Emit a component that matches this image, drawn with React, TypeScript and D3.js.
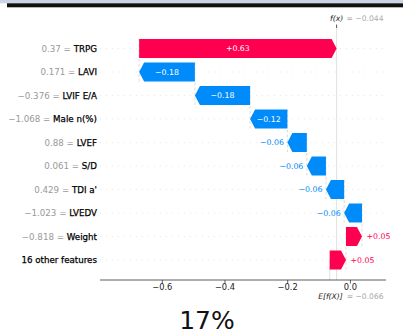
import React from "react";
import * as d3 from "d3";

// Feature rows, top to bottom
const features = [
  "TRPG",
  "LAVI",
  "LVIF E/A",
  "Male n(%)",
  "LVEF",
  "S/D",
  "TDI a'",
  "LVEDV",
  "Weight",
  "16 other features",
];
const featureValues = [
  "0.37",
  "0.171",
  "\u22120.376",
  "\u22121.068",
  "0.88",
  "0.061",
  "0.429",
  "\u22121.023",
  "\u22120.818",
  "",
];
const shapValues = [0.63, -0.178, -0.176, -0.119, -0.062, -0.061, -0.058, -0.057, 0.051, 0.052];
const baseValue = -0.066;
const xTicks = [-0.6, -0.4, -0.2, 0.0];
const caption = "17%";

const RED = "#ff0051";
const BLUE = "#008bfb";
const FONT = "DejaVu Sans, sans-serif";

export default function App() {
  const W = 403;
  const H = 334;
  const axLeft = 100;
  const axRight = 386;
  const axisY = 280;
  const axTop = 28;

  const x = d3.scaleLinear().domain([-0.6, 0]).range([162.3, 350.4]);
  const y = d3
    .scaleLinear()
    .domain([0, features.length - 1])
    .range([48.5, 260]);
  const barH = 19;

  // cumulative waterfall: bottom row starts at the expected value
  const n = features.length;
  const starts: number[] = new Array(n);
  const ends: number[] = new Array(n);
  let cum = baseValue;
  for (let i = n - 1; i >= 0; i--) {
    starts[i] = cum;
    cum += shapValues[i];
    ends[i] = cum;
  }
  const fx = cum;

  const fmtBar = d3.format("+.2f");
  const fmt3 = d3.format(".3f");

  const arrowPath = (i: number) => {
    const x0 = x(starts[i]);
    const x1 = x(ends[i]);
    const cy = y(i);
    const top = cy - barH / 2;
    const bot = cy + barH / 2;
    const dir = x1 >= x0 ? 1 : -1;
    const hl = Math.min(5, Math.abs(x1 - x0));
    const neck = x1 - dir * hl;
    return `M${x0},${top}L${neck},${top}L${x1},${cy}L${neck},${bot}L${x0},${bot}Z`;
  };

  return (
    <svg
      width={W}
      height={H}
      style={{ position: "absolute", left: 0, top: 0, background: "#fff" }}
      fontFamily={FONT}
    >
      <rect x={0} y={0} width={W} height={3.3} fill="#c9d6e6" />
      <rect x={7} y={3.3} width={W - 7} height={4} fill="#111" />

      {/* dotted row guides */}
      {features.map((_, i) => (
        <line
          key={`g${i}`}
          x1={axLeft}
          x2={axRight}
          y1={y(i)}
          y2={y(i)}
          stroke="#cccccc"
          strokeWidth={0.5}
          strokeDasharray="1 5"
        />
      ))}

      {/* connector lines between consecutive bars */}
      {features.map((_, i) =>
        i < n - 1 ? (
          <line
            key={`c${i}`}
            x1={x(starts[i])}
            x2={x(starts[i])}
            y1={y(i) - barH / 2}
            y2={y(i + 1) + barH / 2}
            stroke="#bbbbbb"
            strokeWidth={0.5}
            strokeDasharray="3 2"
          />
        ) : null
      )}

      {/* f(x) and E[f(X)] reference lines */}
      <line x1={x(fx)} x2={x(fx)} y1={axTop - 3} y2={axisY} stroke="#cccccc" strokeWidth={0.6} />
      <line
        x1={x(baseValue)}
        x2={x(baseValue)}
        y1={y(n - 1)}
        y2={axisY}
        stroke="#cccccc"
        strokeWidth={0.6}
      />

      {/* bars */}
      {features.map((_, i) => (
        <path key={`b${i}`} d={arrowPath(i)} fill={shapValues[i] >= 0 ? RED : BLUE} />
      ))}

      {/* bar labels */}
      {features.map((_, i) => {
        const x0 = x(starts[i]);
        const x1 = x(ends[i]);
        const wpx = Math.abs(x1 - x0);
        const pos = shapValues[i] >= 0;
        const label = fmtBar(shapValues[i]);
        if (wpx > 30) {
          return (
            <text
              key={`l${i}`}
              x={(x0 + x1) / 2}
              y={y(i)}
              dy="0.35em"
              textAnchor="middle"
              fontSize={7.8}
              fill="#fff"
            >
              {label}
            </text>
          );
        }
        return (
          <text
            key={`l${i}`}
            x={pos ? Math.max(x0, x1) + 4.5 : Math.min(x0, x1) - 3.5}
            y={y(i)}
            dy="0.35em"
            textAnchor={pos ? "start" : "end"}
            fontSize={7.8}
            fill={pos ? RED : BLUE}
          >
            {label}
          </text>
        );
      })}

      {/* feature labels */}
      {features.map((f, i) => (
        <text key={`f${i}`} x={97} y={y(i)} dy="0.35em" textAnchor="end" fontSize={8.7}>
          {featureValues[i] !== "" ? (
            <tspan fill="#999999">{`${featureValues[i]} = `}</tspan>
          ) : null}
          <tspan fill="#000" stroke="#000" strokeWidth={0.25}>
            {f}
          </tspan>
        </text>
      ))}

      {/* x axis */}
      <line x1={axLeft} x2={axRight} y1={axisY} y2={axisY} stroke="#333" strokeWidth={0.8} />
      {xTicks.map((t) => (
        <g key={`t${t}`}>
          <line x1={x(t)} x2={x(t)} y1={axisY} y2={axisY + 3.5} stroke="#333" strokeWidth={0.8} />
          <text x={x(t)} y={axisY + 9.5} textAnchor="middle" fontSize={8.3} fill="#222">
            {d3.format(".1f")(t)}
          </text>
        </g>
      ))}

      {/* top f(x) annotation */}
      <line x1={x(fx)} x2={x(fx)} y1={axTop - 3.5} y2={axTop} stroke="#333" strokeWidth={0.8} />
      <text x={x(fx)} y={21} textAnchor="middle" fontSize={7.6} fill="#222" fontStyle="italic">
        f(x)
      </text>
      <text x={x(fx) + 10} y={21} textAnchor="start" fontSize={7.6} fill="#aaaaaa">
        {`= ${fmt3(fx)}`}
      </text>

      {/* bottom E[f(X)] annotation */}
      <text x={x(baseValue) + 13} y={299} textAnchor="end" fontSize={7.6} fill="#222" fontStyle="italic">
        E[f(X)]
      </text>
      <text x={x(baseValue) + 17} y={299} textAnchor="start" fontSize={7.6} fill="#aaaaaa">
        {`= ${fmt3(baseValue)}`}
      </text>

      <text x={207} y={329} textAnchor="middle" fontSize={25} fill="#111">
        {caption}
      </text>
    </svg>
  );
}
